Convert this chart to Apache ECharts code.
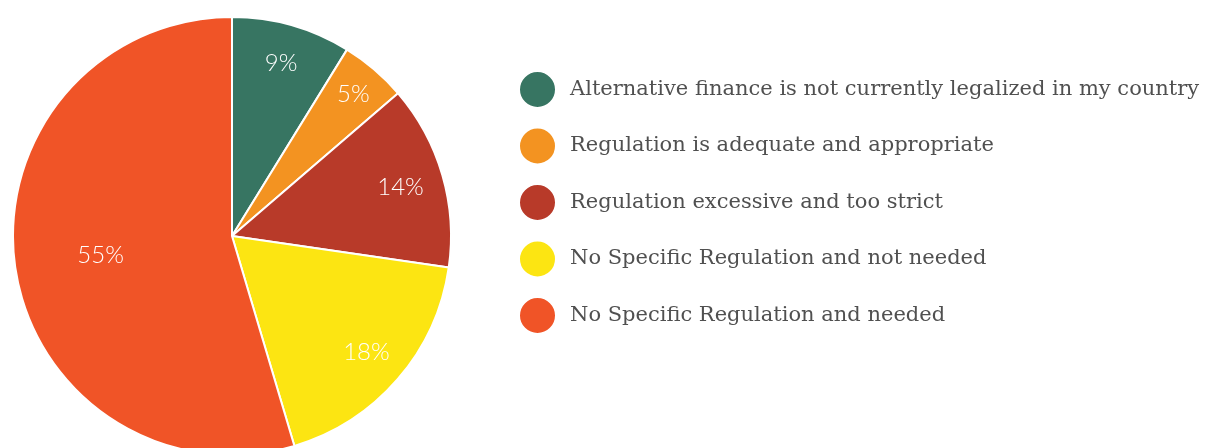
<!DOCTYPE html>
<html>
<head>
<meta charset="utf-8">
<script src="https://cdn.jsdelivr.net/npm/echarts@6/dist/echarts.min.js"></script>
<style>
  html, body { margin: 0; padding: 0; background: #fff; }
  #chart { width: 1206px; height: 448px; }
</style>
</head>
<body>
<div id="chart"></div>
<script>
const categories = [
  'Alternative finance is not currently legalized in my country',
  'Regulation is adequate and appropriate',
  'Regulation excessive and too strict',
  'No Specific Regulation and not needed',
  'No Specific Regulation and needed'
]
const shares = [8.8, 4.9, 13.6, 18.1, 54.6]
const colors = ['#377562', '#f39321', '#b83a29', '#fce512', '#f05427']
// how far each percentage label sits from the centre, relative to the default inside spot
const labelPush = [1.6, 1.66, 1.56, 1.58, 1.18]

const cx = 232, cy = 236
const myChart = echarts.init(document.getElementById('chart'))
myChart.setOption({
  backgroundColor: '#fff',
  animation: false,
  color: colors,
  legend: {
    orient: 'vertical',
    left: 513,
    top: 65,
    icon: 'circle',
    itemWidth: 37,
    itemHeight: 37,
    itemGap: 17.5,
    textStyle: {
      fontFamily: 'DejaVu Serif',
      fontSize: 21,
      color: '#505050',
      padding: [0, 0, 0, 9]
    },
    data: categories
  },
  series: [
    {
      type: 'pie',
      center: [cx, cy],
      radius: 219,
      startAngle: 90,
      clockwise: true,
      itemStyle: { borderColor: '#fff', borderWidth: 2 },
      label: {
        position: 'inside',
        color: '#ffffff',
        fontFamily: 'Lato',
        fontWeight: 300,
        fontSize: 24,
        formatter: p => Math.round(p.value) + '%'
      },
      labelLayout: p => {
        const r = p.labelRect
        const lx = r.x + r.width / 2, ly = r.y + r.height / 2
        const k = labelPush[p.dataIndex]
        return { dx: (lx - cx) * (k - 1), dy: (ly - cy) * (k - 1) }
      },
      emphasis: { disabled: true },
      data: categories.map((name, i) => ({ name: name, value: shares[i] }))
    }
  ]
})
</script>
</body>
</html>
